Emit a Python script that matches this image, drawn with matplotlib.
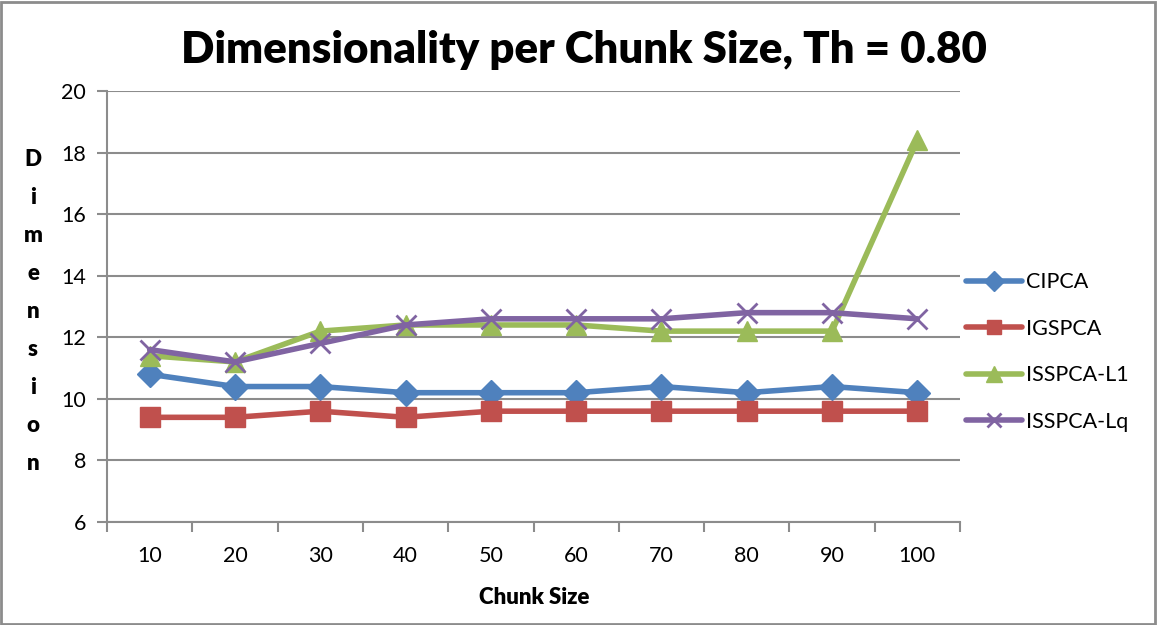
import numpy as np
import matplotlib.pyplot as plt
from matplotlib.patches import Rectangle

# tamanhos de chunk e dimensionalidade média por método
chunks = [10, 20, 30, 40, 50, 60, 70, 80, 90, 100]
cipca = [10.8, 10.4, 10.4, 10.2, 10.2, 10.2, 10.4, 10.2, 10.4, 10.2]
igspca = [9.4, 9.4, 9.6, 9.4, 9.6, 9.6, 9.6, 9.6, 9.6, 9.6]
isspca_l1 = [11.4, 11.2, 12.2, 12.4, 12.4, 12.4, 12.2, 12.2, 12.2, 18.4]
isspca_lq = [11.6, 11.2, 11.8, 12.4, 12.6, 12.6, 12.6, 12.8, 12.8, 12.6]

plt.rcParams['font.family'] = ['Lato', 'DejaVu Sans']

fig = plt.figure(figsize=(11.57, 6.25), dpi=100)
W, H = 1157, 625
ax = fig.add_axes([107 / W, 1 - 522 / H, (960 - 107) / W, (522 - 91) / H])

pos = np.arange(1, len(chunks) + 1)
series = [
    ('CIPCA', cipca, '#4F81BD', 'D', 13),
    ('IGSPCA', igspca, '#C0504D', 's', 14),
    ('ISSPCA-L1', isspca_l1, '#9BBB59', '^', 15),
    ('ISSPCA-Lq', isspca_lq, '#8064A2', 'x', 14),
]
for nome, vals, cor, mk, ms in series:
    ax.plot(pos, vals, color=cor, lw=4, marker=mk, ms=ms, mew=2 if mk == 'x' else 1,
            mec=cor, mfc=cor, label=nome, solid_capstyle='round', solid_joinstyle='round')

ax.set_xlim(0.5, len(chunks) + 0.5)
ax.set_ylim(6, 20)
ax.set_yticks(np.arange(6, 21, 2))
ax.yaxis.grid(True, color='#8C8C8C', lw=1.5)
ax.set_axisbelow(True)

# rótulos das categorias no centro, marcas de tick entre categorias
ax.set_xticks(np.arange(0.5, len(chunks) + 1, 1))
ax.set_xticklabels([])
ax.set_xticks(pos, minor=True)
ax.set_xticklabels([str(c) for c in chunks], minor=True, fontsize=15.5)
ax.tick_params(axis='x', which='minor', length=0, pad=17)
ax.tick_params(axis='x', which='major', length=7, width=1.5, color='#8C8C8C', direction='out')
ax.tick_params(axis='y', length=7, width=1.5, color='#8C8C8C', labelsize=15.5, pad=8)

for s in ['top', 'right']:
    ax.spines[s].set_visible(False)
for s in ['left', 'bottom']:
    ax.spines[s].set_color('#8C8C8C')
    ax.spines[s].set_linewidth(1.5)

fig.text(584 / W, 1 - 50 / H, 'Dimensionality per Chunk Size, Th = 0.80',
         ha='center', va='center', fontsize=31.5, fontweight='heavy')
fig.text(534 / W, 1 - 597 / H, 'Chunk Size', ha='center', va='center',
         fontsize=16, fontweight='heavy')
fig.text(33 / W, 1 - 312 / H, '\n'.join('Dimension'), ha='center', va='center',
         fontsize=16, fontweight='heavy', linespacing=2.0)

fig.legend(loc='center left', bbox_to_anchor=(947 / W, 1 - 352 / H), frameon=False,
           fontsize=15.5, handlelength=2.6, labelspacing=1.23, handletextpad=0.15,
           markerscale=0.75)

fig.add_artist(Rectangle((0.001, 0.002), 0.997, 0.995, transform=fig.transFigure,
                         fill=False, ec='#8C8C8C', lw=2))

fig.savefig('out.png', dpi=100)
